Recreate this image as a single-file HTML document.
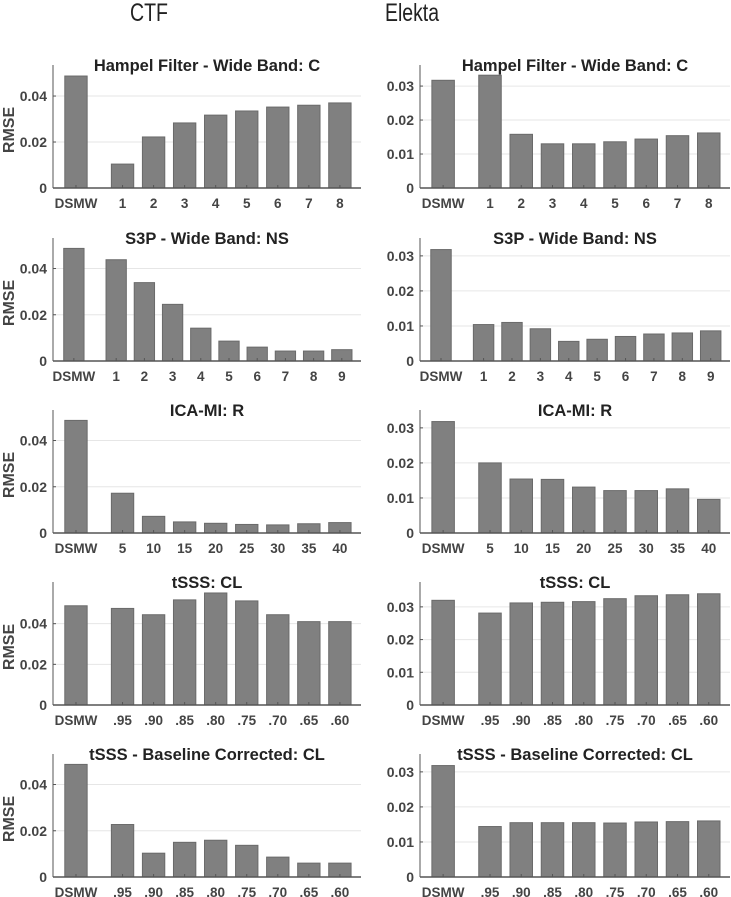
<!DOCTYPE html>
<html><head><meta charset="utf-8"><style>
html,body{margin:0;padding:0;background:#fff;}
svg{display:block;font-family:"Liberation Sans",Arial,sans-serif;}
</style></head><body>
<svg id="fig" width="731" height="897" viewBox="0 0 731 897">
<text x="149" y="21" text-anchor="middle" font-size="25" textLength="38" lengthAdjust="spacingAndGlyphs" fill="#222">CTF</text>
<text x="412" y="21" text-anchor="middle" font-size="25" textLength="54" lengthAdjust="spacingAndGlyphs" fill="#222">Elekta</text>
</svg>
<script>
// ---- data ----
const titles = ["Hampel Filter - Wide Band: C","S3P - Wide Band: NS","ICA-MI: R","tSSS: CL","tSSS - Baseline Corrected: CL"];
const catsHampel = ["DSMW","1","2","3","4","5","6","7","8"];
const catsS3P = ["DSMW","1","2","3","4","5","6","7","8","9"];
const catsICA = ["DSMW","5","10","15","20","25","30","35","40"];
const catsTSSS = ["DSMW",".95",".90",".85",".80",".75",".70",".65",".60"];
const ctfHampel = [0.0487,0.0104,0.0222,0.0283,0.0317,0.0335,0.0352,0.0360,0.0370];
const ctfS3P = [0.0487,0.0438,0.0339,0.0245,0.0142,0.0086,0.0060,0.0043,0.0043,0.0049];
const ctfICA = [0.0487,0.0172,0.0072,0.0048,0.0042,0.0037,0.0035,0.0040,0.0045];
const ctfTSSS = [0.0488,0.0475,0.0444,0.0517,0.0551,0.0512,0.0444,0.0410,0.0410];
const ctfTSSSBC = [0.0487,0.0227,0.0103,0.0150,0.0159,0.0137,0.0086,0.0060,0.0060];
const elHampel = [0.0317,0.0332,0.0158,0.0130,0.0130,0.0136,0.0144,0.0154,0.0162];
const elS3P = [0.0318,0.0104,0.0110,0.0092,0.0056,0.0062,0.0070,0.0077,0.0080,0.0086];
const elICA = [0.0318,0.0200,0.0154,0.0153,0.0131,0.0121,0.0121,0.0126,0.0096];
const elTSSS = [0.0320,0.0281,0.0312,0.0314,0.0316,0.0325,0.0334,0.0337,0.0340];
const elTSSSBC = [0.0318,0.0144,0.0155,0.0155,0.0155,0.0154,0.0157,0.0158,0.0160];
const ctfYMax = [0.0535,0.0532,0.0532,0.0605,0.0532];
const elYMax = [0.0362,0.0351,0.0351,0.0376,0.0351];
const ctfTicks = [0,0.02,0.04];
const elTicks = [0,0.01,0.02,0.03];
const ctfTickLabels = ["0","0.02","0.04"];
const elTickLabels = ["0","0.01","0.02","0.03"];

const NS = "http://www.w3.org/2000/svg";
const svg = document.getElementById("fig");
function mk(tag, attrs, parent){
  const e = document.createElementNS(NS, tag);
  for (const k in attrs) e.setAttribute(k, attrs[k]);
  (parent||svg).appendChild(e);
  return e;
}
const rowBottoms = [188,361,533,705,877];
const plotH = 123;
const catsByRow = [catsHampel,catsS3P,catsICA,catsTSSS,catsTSSS];
const ctfVals = [ctfHampel,ctfS3P,ctfICA,ctfTSSS,ctfTSSSBC];
const elVals = [elHampel,elS3P,elICA,elTSSS,elTSSSBC];

function panel(col, row){
  const left = col===0 ? 53 : 420;
  const right = col===0 ? 361 : 730;
  const bottom = rowBottoms[row];
  const top = bottom - plotH;
  const cats = catsByRow[row];
  const vals = col===0 ? ctfVals[row] : elVals[row];
  const ymax = col===0 ? ctfYMax[row] : elYMax[row];
  const ticks = col===0 ? ctfTicks : elTicks;
  const tickLabels = col===0 ? ctfTickLabels : elTickLabels;
  const n = cats.length - 1;
  const d0 = -0.74, d1 = n + 1.18;
  const xs = v => left + (v - d0) / (d1 - d0) * (right - left);
  const ys = v => bottom - v / ymax * (bottom - top);
  const pos = i => i===0 ? 0 : i + 0.5;
  const unit = (right-left)/(d1-d0);
  const bw = unit*0.72;
  const g = mk("g", {});
  
  
  ticks.forEach((t,i)=>{
    if(t===0) return;
    const l = mk("line",{x1:left,x2:right,y1:ys(t),y2:ys(t),stroke:"#e6e6e6","stroke-width":1},g);
    
    
  });
  vals.forEach((v,i)=>{
    const cx = xs(pos(i));
    const r = mk("rect",{x:cx-bw/2,y:ys(v),width:bw,height:bottom-ys(v),fill:"#808080",stroke:"#6a6a6a","stroke-width":1},g);
    
    
    mk("line",{x1:cx,x2:cx,y1:bottom,y2:bottom-3,stroke:"#555","stroke-width":1},g);
    const t = mk("text",{x:cx,y:bottom+20,"text-anchor":"middle","font-size":13.5,"font-weight":"bold",fill:"#444"},g);
    t.textContent = cats[i];
    
    
  });
  const ya = mk("line",{x1:left,x2:left,y1:top,y2:bottom,stroke:"#555","stroke-width":1},g);
  
  
  const xa = mk("line",{x1:left,x2:right,y1:bottom,y2:bottom,stroke:"#555","stroke-width":1.5},g);
  
  
  ticks.forEach((t,i)=>{
    mk("line",{x1:left,x2:left+3,y1:ys(t),y2:ys(t),stroke:"#555","stroke-width":1},g);
    const tl = mk("text",{x:left-6,y:ys(t)+5,"text-anchor":"end","font-size":14,"font-weight":"bold",fill:"#444"},g);
    tl.textContent = tickLabels[i];
    
    
  });
  const ti = mk("text",{x:(left+right)/2,y:top+6,"text-anchor":"middle","font-size":16.5,"font-weight":"bold",fill:"#222"},g);
  ti.textContent = titles[row];
  
  
  if(col===0){
    const yl = mk("text",{x:0,y:0,transform:"translate(14,"+(bottom-58)+") rotate(-90)","text-anchor":"middle","font-size":16,"font-weight":"bold",fill:"#444"},g);
    yl.textContent = "RMSE";
    
    
  }
}
for(let r=0;r<5;r++){ panel(0,r); panel(1,r); }
</script>
</body></html>
